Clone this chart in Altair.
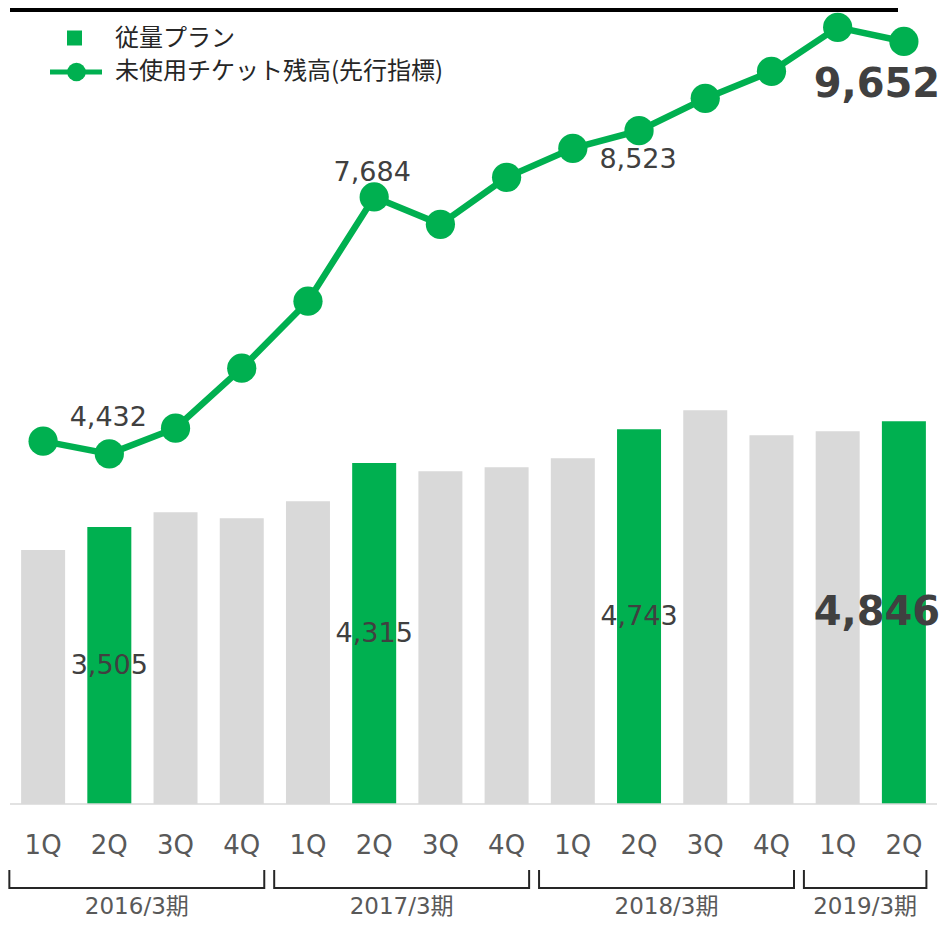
import json
import altair as alt
import pandas as pd

# ---------------- data ----------------
quarters = ["1Q", "2Q", "3Q", "4Q", "1Q", "2Q", "3Q", "4Q", "1Q", "2Q", "3Q", "4Q", "1Q", "2Q"]
fiscal_years = ["2016/3期"] * 4 + ["2017/3期"] * 4 + ["2018/3期"] * 4 + ["2019/3期"] * 2
plan_values = [3214, 3505, 3694, 3618, 3833, 4315, 4213, 4264, 4378, 4743, 4985, 4668, 4719, 4846]
ticket_values = [4593, 4432, 4757, 5516, 6364, 7684, 7338, 7933, 8300, 8523, 8932, 9274, 9831, 9652]
highlight = [False, True, False, False, False, True, False, False, False, True, False, False, False, True]
legend_labels = ["従量プラン", "未使用チケット残高(先行指標)"]

df = pd.DataFrame({
    "i": list(range(len(quarters))),
    "q": quarters,
    "fy": fiscal_years,
    "plan": plan_values,
    "ticket": ticket_values,
    "hl": highlight,
})

GREEN = "#00b050"
GRAY = "#d9d9d9"
TXT = "#404040"
AXT = "#595959"
NUM_FONT = "DejaVu Sans, Noto Sans CJK JP"
JP_FONT = "Noto Sans CJK JP"
PLOT_W = 927
PLOT_H = 790

xs = alt.Scale(domain=[-0.5, len(quarters) - 0.5], nice=False, zero=False, padding=0)
ys = alt.Scale(domain=[0, 10000], nice=False, zero=True, padding=0)

base = alt.Chart(df)
X = alt.X("i:Q", scale=xs, axis=None)

bars = base.mark_bar(size=44).encode(
    x=X,
    y=alt.Y("plan:Q", scale=ys, axis=None),
    color=alt.condition("datum.hl", alt.value(GREEN), alt.value(GRAY)),
)

# baseline (axis domain line)
dummy = alt.Chart(pd.DataFrame({"k": [0]}))
axis_line = dummy.mark_rule(color=GRAY, strokeWidth=1.5).encode(
    x=alt.value(0), x2=alt.value(PLOT_W), y=alt.value(PLOT_H))

# quarter tick labels
q_labels = base.mark_text(fontSize=26, color=AXT, font=NUM_FONT, baseline="alphabetic",
                          align="center").encode(
    x=X, y=alt.value(840), text="q:N")

bar_labels = base.transform_filter("datum.hl && datum.i < 13").transform_calculate(
    half="datum.plan / 2"
).mark_text(fontSize=27, color=TXT, font=NUM_FONT, baseline="middle", align="center").encode(
    x=X, y=alt.Y("half:Q", scale=ys, axis=None), text=alt.Text("plan:Q", format=",")
)

bar_label_last = base.transform_filter("datum.i == 13").transform_calculate(
    half="datum.plan / 2"
).mark_text(fontSize=40, fontWeight="bold", color=TXT, font=NUM_FONT, baseline="middle",
            align="center", dx=-27).encode(
    x=X, y=alt.Y("half:Q", scale=ys, axis=None), text=alt.Text("plan:Q", format=",")
)


def line_label(idx, dx, dy, size=27, bold=False):
    return base.transform_filter(f"datum.i == {idx}").mark_text(
        dx=dx, dy=dy, fontSize=size, fontWeight="bold" if bold else "normal",
        color=TXT, font=NUM_FONT, baseline="alphabetic", align="center"
    ).encode(x=X, y=alt.Y("ticket:Q", scale=ys, axis=None),
             text=alt.Text("ticket:Q", format=","))


ll1 = line_label(1, -1, -28)
ll2 = line_label(5, -2, -16)
ll3 = line_label(9, -1, 37)
ll4 = line_label(13, -27, 56, size=40, bold=True)

line = base.mark_line(color=GREEN, strokeWidth=6.5).encode(
    x=X, y=alt.Y("ticket:Q", scale=ys, axis=None)
)
points = base.mark_circle(size=855, color=GREEN, opacity=1).encode(
    x=X, y=alt.Y("ticket:Q", scale=ys, axis=None)
)

# ---------------- fiscal-year brackets ----------------
br = base.transform_aggregate(
    first="min(i)", last="max(i)", groupby=["fy"]
).transform_calculate(start="datum.first - 0.51").transform_calculate(
    end="datum.last + 0.34").transform_calculate(mid="(datum.start + datum.end) / 2")

BR = "#262626"
br_h = br.mark_rule(color=BR, strokeWidth=2).encode(
    x=alt.X("start:Q", scale=xs, axis=None), x2="end:Q", y=alt.value(874))
br_l = br.mark_rule(color=BR, strokeWidth=2).encode(
    x=alt.X("start:Q", scale=xs, axis=None), y=alt.value(856), y2=alt.value(875))
br_r = br.mark_rule(color=BR, strokeWidth=2).encode(
    x=alt.X("end:Q", scale=xs, axis=None), y=alt.value(856), y2=alt.value(875))
br_t = br.mark_text(fontSize=23, color=AXT, font=NUM_FONT, baseline="alphabetic",
                    align="center").encode(
    x=alt.X("mid:Q", scale=xs, axis=None), y=alt.value(900), text="fy:N")

# ---------------- legend & top rule ----------------
top_rule = dummy.mark_rule(color="black", strokeWidth=4).encode(
    x=alt.value(0), x2=alt.value(888), y=alt.value(-4))
leg_sq = dummy.mark_square(size=225, color=GREEN, opacity=1).encode(
    x=alt.value(64.5), y=alt.value(24))
leg_line = dummy.mark_rule(color=GREEN, strokeWidth=5).encode(
    x=alt.value(40), x2=alt.value(92), y=alt.value(58))
leg_dot = dummy.mark_circle(size=346, color=GREEN, opacity=1).encode(
    x=alt.value(66.5), y=alt.value(58))
leg_t1 = dummy.mark_text(text=legend_labels[0], align="left", baseline="middle",
                         fontSize=24, font=JP_FONT, color="#262626").encode(
    x=alt.value(105), y=alt.value(25))
leg_t2 = dummy.mark_text(text=legend_labels[1], align="left", baseline="middle",
                         fontSize=24, font=JP_FONT, color="#262626").encode(
    x=alt.value(105), y=alt.value(58))

chart = alt.layer(
    top_rule, bars, axis_line, q_labels, bar_labels, bar_label_last, ll1, ll2, ll3, ll4,
    line, points, br_h, br_l, br_r, br_t, leg_sq, leg_line, leg_dot, leg_t1, leg_t2,
).properties(
    width=PLOT_W, height=PLOT_H,
    padding={"left": 2, "top": 6, "right": 4, "bottom": 119},
    autosize=alt.AutoSizeParams(type="none"),
    background="white",
).configure_view(stroke=None)

chart.save("out.html", embed_options={"renderer": "svg", "actions": False})
